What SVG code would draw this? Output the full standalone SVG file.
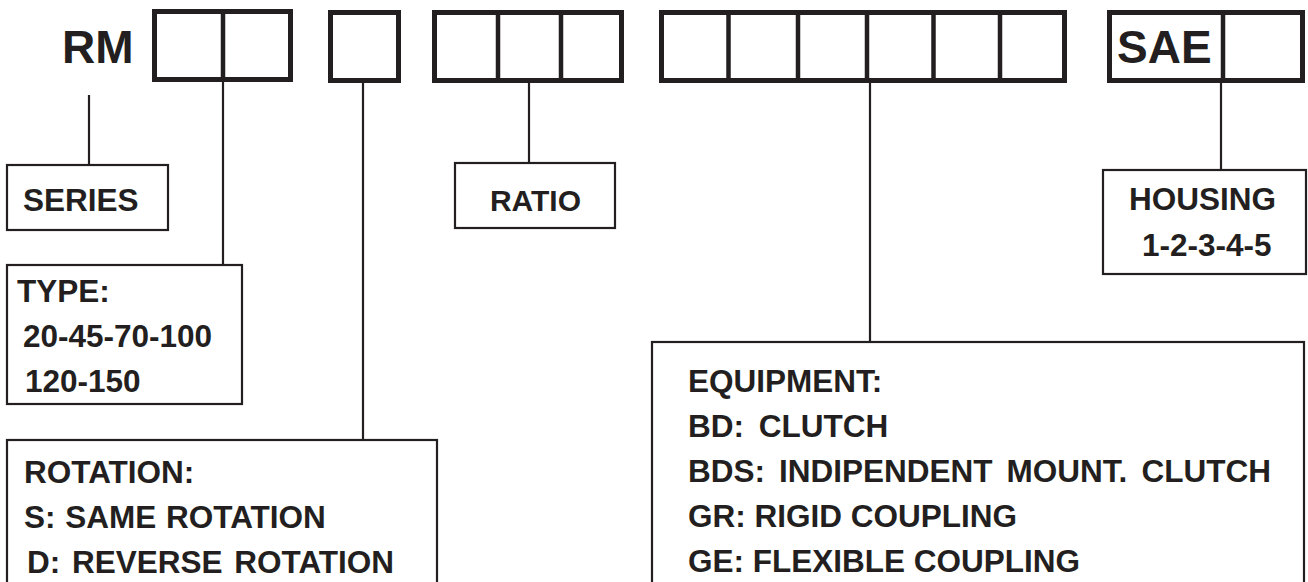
<svg xmlns="http://www.w3.org/2000/svg" width="1308" height="582" viewBox="0 0 1308 582">
<style>
.code{fill:none;stroke:#231f20;stroke-width:5}
.div{stroke:#231f20;stroke-width:4.5}
.box{fill:none;stroke:#231f20;stroke-width:2.2}
.conn{stroke:#231f20;stroke-width:2.2;fill:none}
text{font-family:"Liberation Sans",Arial,sans-serif;font-weight:bold;fill:#231f20}
.big{font-size:46px}
.lbl{font-size:31.5px}
.ws{word-spacing:6px}
</style>
<rect width="1308" height="582" fill="#ffffff"/>
<g id="code">
<text class="big" x="62" y="63">RM</text>
<g id="type-boxes"><rect class="code" x="154.5" y="11.5" width="136" height="68"/><line class="div" x1="223" y1="11.5" x2="223" y2="79.5"/></g>
<g id="rotation-box"><rect class="code" x="330.5" y="12.5" width="68" height="68"/></g>
<g id="ratio-boxes"><rect class="code" x="434.5" y="12.5" width="187" height="68"/><line class="div" x1="498" y1="12.5" x2="498" y2="80.5"/><line class="div" x1="561" y1="12.5" x2="561" y2="80.5"/></g>
<g id="equipment-boxes"><rect class="code" x="661.5" y="12.5" width="403" height="68"/><line class="div" x1="728.5" y1="12.5" x2="728.5" y2="80.5"/><line class="div" x1="798" y1="12.5" x2="798" y2="80.5"/><line class="div" x1="867" y1="12.5" x2="867" y2="80.5"/><line class="div" x1="933.5" y1="12.5" x2="933.5" y2="80.5"/><line class="div" x1="1000" y1="12.5" x2="1000" y2="80.5"/></g>
<g id="housing-boxes"><rect class="code" x="1109.5" y="12.5" width="193" height="68"/><line class="div" x1="1223" y1="12.5" x2="1223" y2="80.5"/><text class="big" x="1117" y="63">SAE</text></g>
</g>
<g id="connectors">
<line class="conn" x1="89" y1="95" x2="89" y2="165"/>
<line class="conn" x1="223" y1="82" x2="223" y2="265"/>
<line class="conn" x1="363" y1="83" x2="363" y2="440"/>
<line class="conn" x1="529" y1="83" x2="529" y2="163"/>
<line class="conn" x1="870" y1="83" x2="870" y2="342"/>
<line class="conn" x1="1221" y1="83" x2="1221" y2="170"/>
</g>
<g id="series"><rect class="box" x="7" y="165" width="161" height="65"/><text class="lbl" x="23" y="211">SERIES</text></g>
<g id="type"><rect class="box" x="7" y="265" width="235" height="139"/><text class="lbl" x="17" y="302">TYPE:</text><text class="lbl" x="23" y="347">20-45-70-100</text><text class="lbl" x="25" y="392">120-150</text></g>
<g id="rotation"><rect class="box" x="7" y="440" width="430" height="160"/><text class="lbl" x="24" y="483">ROTATION:</text><text class="lbl" x="24" y="528" style="word-spacing:1px">S: SAME ROTATION</text><text class="lbl" x="27" y="573" style="word-spacing:3px">D: REVERSE ROTATION</text></g>
<g id="ratio"><rect class="box" x="455" y="163" width="160" height="65"/><text class="lbl" x="535.5" y="211" text-anchor="middle" style="font-size:30px">RATIO</text></g>
<g id="housing"><rect class="box" x="1103" y="170" width="203" height="104"/><text class="lbl" x="1129" y="210">HOUSING</text><text class="lbl" x="1142" y="256">1-2-3-4-5</text></g>
<g id="equipment"><rect class="box" x="652" y="342" width="652" height="260"/><text class="lbl" x="688" y="392">EQUIPMENT:</text><text class="lbl ws" x="688" y="437">BD: CLUTCH</text><text class="lbl" x="688" y="482" style="word-spacing:5.3px">BDS: INDIPENDENT MOUNT. CLUTCH</text><text class="lbl" x="688" y="527">GR: RIGID COUPLING</text><text class="lbl" x="688" y="572">GE: FLEXIBLE COUPLING</text></g>
</svg>
